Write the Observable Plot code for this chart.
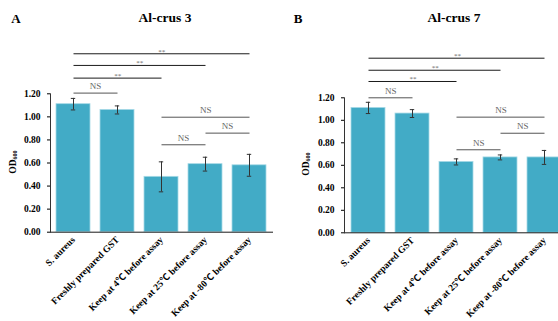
<!DOCTYPE html>
<html><head><meta charset="utf-8">
<script src="https://cdn.jsdelivr.net/npm/d3@7"></script>
<script src="https://cdn.jsdelivr.net/npm/@observablehq/plot@0.6"></script>
<style>
@font-face{font-family:"DegSym";src:local("Noto Sans CJK SC"),local("NotoSansCJKsc-Regular"),local("Noto Sans CJK SC Regular");unicode-range:U+2103;}
@font-face{font-family:"DegSym";font-weight:bold;src:local("Noto Sans CJK SC Bold"),local("NotoSansCJKsc-Bold"),local("Noto Sans CJK SC");unicode-range:U+2103;}
html,body{margin:0;padding:0;background:#fff;overflow:hidden;}
#wrap{position:relative;width:558px;height:321px;overflow:hidden;background:#fff;}
.panel{position:absolute;top:0;}
.panel svg{max-width:none !important;}
.lbl{position:absolute;font-family:"Liberation Serif",serif;font-weight:bold;color:#000;line-height:1;white-space:nowrap;transform:translate(-50%,-50%);}
.od{position:absolute;font-family:"Liberation Serif",serif;font-weight:bold;font-size:9.5px;color:#000;line-height:1;white-space:nowrap;transform:translate(-50%,-50%) rotate(-90deg);}
.od sub{font-size:6px;vertical-align:-1px;}
</style></head><body><div id="wrap"></div>
<script>
const categories = ["S. aureus","Freshly prepared GST","Keep at 4℃ before assay","Keep at 25℃ before assay","Keep at -80℃ before assay"];
const meansA = [1.11, 1.06, 0.48, 0.59, 0.58];
const errA   = [0.05, 0.035, 0.13, 0.06, 0.095];
const meansB = [1.11, 1.06, 0.63, 0.67, 0.67];
const errB   = [0.05, 0.035, 0.027, 0.022, 0.062];
const yTicks = [0, 0.2, 0.4, 0.6, 0.8, 1.0, 1.2];
const sigFrom  = [0, 0, 0, 0, 2, 2, 3];
const sigTo    = [4, 3, 2, 1, 4, 3, 4];
const sigLabel = ["**", "**", "**", "NS", "NS", "NS", "NS"];
const sigLevelA = [1.547, 1.446, 1.336, 1.206, 0.997, 0.758, 0.859];
const sigLevelB = [1.552, 1.445, 1.345, 1.200, 1.028, 0.738, 0.885];
const titles = ["Al-crus 3", "Al-crus 7"];
const letters = ["A", "B"];

const FONT = '"DegSym", "Liberation Serif", "Noto Sans CJK SC", serif';
const wrap = document.getElementById("wrap");

function makePanel(means, errs, levels, o) {
  const xOpts = {type: "band", domain: categories, paddingInner: 0.227, paddingOuter: o.po};
  const xs = Plot.scale({x: {...xOpts, range: [o.ml, o.w - o.mr]}});
  const data = categories.map((c, i) => ({c, v: means[i], e: errs[i]}));
  const sig = sigFrom.map((f, i) => ({a: categories[f], b: categories[sigTo[i]], y: levels[i], label: sigLabel[i], span: sigTo[i] - f}));
  const marks = [
    Plot.barY(data, {x: "c", y: "v", fill: "#42abc6", stroke: "#a6d9e6", strokeWidth: 0.8}),
    Plot.ruleX(data, {x: "c", y1: d => d.v - d.e, y2: d => d.v + d.e, stroke: "#333", strokeWidth: 1}),
    Plot.tickY(data, {x: "c", y: d => d.v - d.e, stroke: "#333", insetLeft: 14.8, insetRight: 14.8}),
    Plot.tickY(data, {x: "c", y: d => d.v + d.e, stroke: "#333", insetLeft: 14.8, insetRight: 14.8}),
    Plot.link(sig.filter(s => s.label === "**"), {x1: "a", x2: "b", y1: "y", y2: "y", stroke: "#1a1a1a", strokeWidth: 1}),
    Plot.link(sig.filter(s => s.label !== "**"), {x1: "a", x2: "b", y1: "y", y2: "y", stroke: "#555", strokeWidth: 1}),
    ...sig.map(s => Plot.text([s], {
      x: "a", y: "y", text: "label",
      dx: s.span * xs.step / 2,
      dy: s.label === "**" ? -2.5 : -7,
      fontSize: s.label === "**" ? 7 : 9,
      fontWeight: "normal",
      fill: "#666"
    })),
    Plot.ruleY([0], {stroke: "#1a1a1a", strokeWidth: 1}),
    Plot.frame({anchor: "left", stroke: "#333"}),
    Plot.axisY({ticks: yTicks, tickFormat: d3.format(".2f"), tickSize: 3, tickPadding: 7, label: null}),
    Plot.axisX({tickRotate: -45, tickSize: 0, tickPadding: 6, label: null})
  ];
  const svg = Plot.plot({
    width: o.w, height: 321,
    marginLeft: o.ml, marginRight: o.mr, marginTop: o.mt, marginBottom: 321 - o.y0,
    x: xOpts,
    y: {domain: [0, 1.2]},
    style: {fontFamily: FONT, fontSize: "9.5px", fontWeight: "bold", background: "transparent", overflow: "visible", maxWidth: "none"},
    marks
  });
  const div = document.createElement("div");
  div.className = "panel";
  div.style.left = o.left + "px";
  div.style.width = o.w + "px";
  div.appendChild(svg);
  wrap.appendChild(div);
}

makePanel(meansA, errA, sigLevelA, {left: 0, w: 278, ml: 50, mr: 5, po: 0.14, mt: 93.3, y0: 231.7});
makePanel(meansB, errB, sigLevelB, {left: 278, w: 294, ml: 66, mr: 4, po: 0.13, mt: 97.3, y0: 232.3});

function addLabel(cls, html, x, y, size) {
  const d = document.createElement("div");
  d.className = cls;
  d.innerHTML = html;
  d.style.left = x + "px";
  d.style.top = y + "px";
  if (size) d.style.fontSize = size + "px";
  wrap.appendChild(d);
}
addLabel("lbl", letters[0], 16, 18, 13);
addLabel("lbl", titles[0], 165, 18, 13.5);
addLabel("lbl", letters[1], 298, 18, 13);
addLabel("lbl", titles[1], 454, 18, 13.5);
addLabel("od", "OD<sub>600</sub>", 14, 162);
addLabel("od", "OD<sub>600</sub>", 307, 164);
</script></body></html>
